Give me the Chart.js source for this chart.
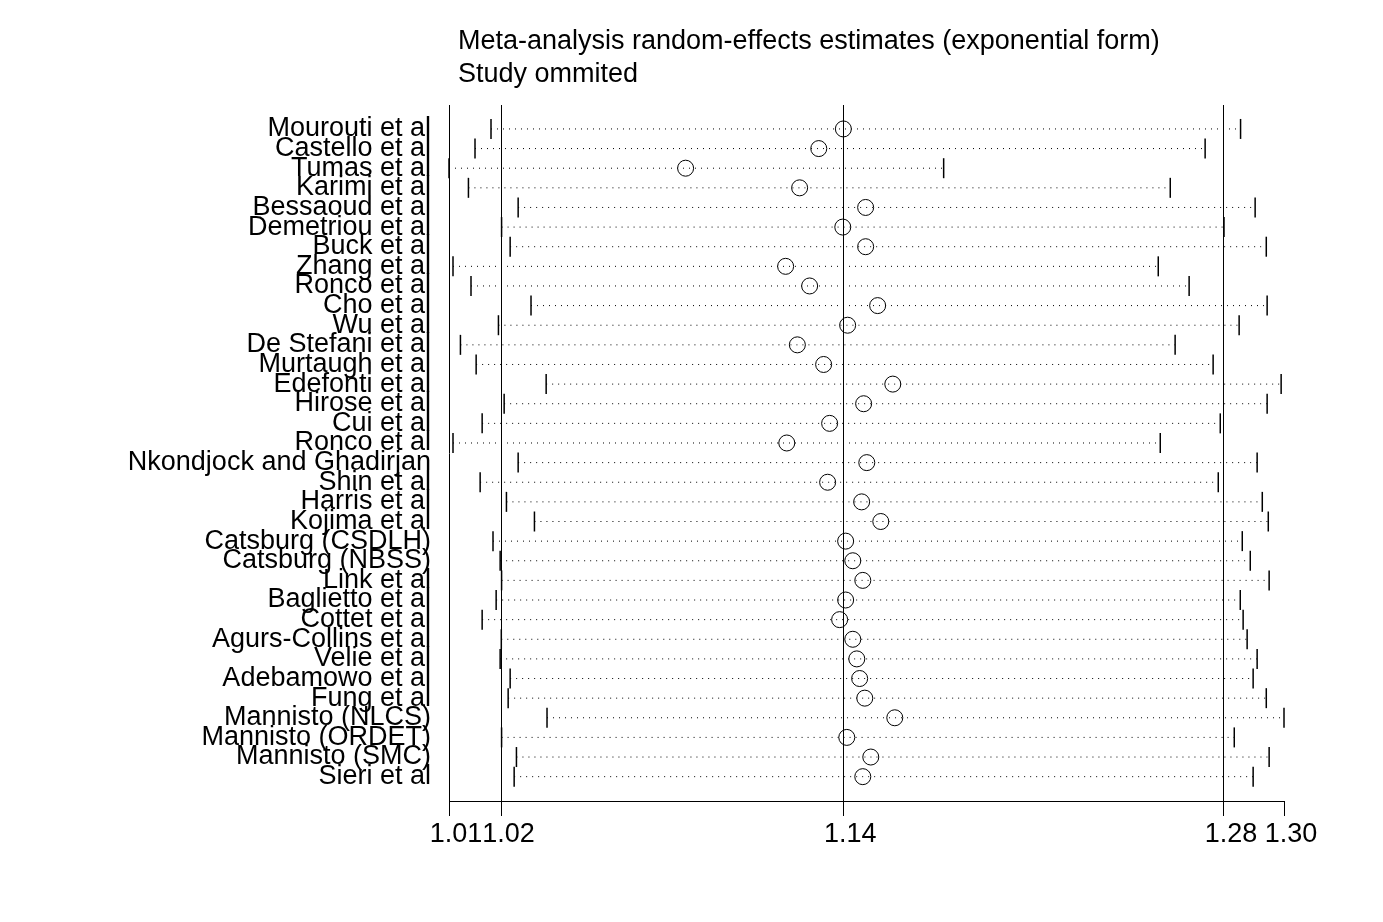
<!DOCTYPE html>
<html>
<head>
<meta charset="utf-8">
<title>Meta-analysis random-effects estimates</title>
<script src="https://cdn.jsdelivr.net/npm/chart.js@4.4.1/dist/chart.umd.min.js"></script>
<style>
  body { margin: 0; background: #fff; }
  #wrap { width: 1383px; height: 922px; }
</style>
</head>
<body>
<div id="wrap"><canvas id="chart"></canvas></div>
<script>
// study omitted, in plot order (top to bottom)
const studies = [
  "Mourouti et al", "Castello et al", "Tumas et al", "Karimi et al",
  "Bessaoud et al", "Demetriou et al", "Buck et al", "Zhang et al",
  "Ronco et al", "Cho et al", "Wu et al", "De Stefani et al",
  "Murtaugh et al", "Edefonti et al", "Hirose et al", "Cui et al",
  "Ronco et al", "Nkondjock and Ghadirjan", "Shin et al", "Harris et al",
  "Kojima et al", "Catsburg (CSDLH)", "Catsburg (NBSS)", "Link et al",
  "Baglietto et al", "Cottet et al", "Agurs-Collins et al", "Velie et al",
  "Adebamowo et al", "Fung et al", "Mannisto (NLCS)", "Mannisto (ORDET)",
  "Mannisto (SMC)", "Sieri et al"
];

const lower = [
  1.0205, 1.0149, 1.0058, 1.0126, 1.0300, 1.0242, 1.0272, 1.0072,
  1.0135, 1.0345, 1.0231, 1.0098, 1.0153, 1.0398, 1.0251, 1.0174,
  1.0072, 1.0300, 1.0167, 1.0259, 1.0357, 1.0212, 1.0237, 1.0242,
  1.0223, 1.0174, 1.0241, 1.0237, 1.0272, 1.0265, 1.0401, 1.0242,
  1.0294, 1.0286
];

const estimate = [
  1.1438, 1.1352, 1.0886, 1.1285, 1.1516, 1.1436, 1.1516, 1.1236,
  1.1320, 1.1558, 1.1453, 1.1277, 1.1369, 1.1611, 1.1509, 1.1390,
  1.1240, 1.1520, 1.1383, 1.1502, 1.1569, 1.1446, 1.1471, 1.1506,
  1.1446, 1.1425, 1.1471, 1.1485, 1.1495, 1.1513, 1.1618, 1.1450,
  1.1534, 1.1506
];

const upper = [
  1.2828, 1.2704, 1.1789, 1.2582, 1.2879, 1.2770, 1.2918, 1.2540,
  1.2648, 1.2921, 1.2823, 1.2599, 1.2732, 1.2970, 1.2921, 1.2757,
  1.2547, 1.2886, 1.2750, 1.2904, 1.2925, 1.2834, 1.2862, 1.2928,
  1.2827, 1.2837, 1.2851, 1.2886, 1.2872, 1.2918, 1.2980, 1.2806,
  1.2928, 1.2872
];

// overall estimate: lower CI, estimate, upper CI
const pooled = [1.0242, 1.1438, 1.2770];

const titleLines = [
  "Meta-analysis random-effects estimates (exponential form)",
  "Study ommited"
];

const xTicks = [Math.min(...lower), pooled[0], pooled[1], pooled[2], Math.max(...upper)];

const FONT = "Arial, 'Liberation Sans', sans-serif";

const ciSets = studies.map(function (name, i) {
  return {
    label: name,
    data: [{ x: lower[i], y: i }, { x: upper[i], y: i }],
    showLine: true,
    borderColor: "#000",
    borderWidth: 1,
    borderDash: [1, 5],
    pointStyle: "line",
    pointRotation: 90,
    pointRadius: 10,
    pointBorderWidth: 1.5,
    pointBorderColor: "#000",
    clip: false
  };
});

const estSet = {
  label: "estimate",
  data: estimate.map(function (v, i) { return { x: v, y: i }; }),
  showLine: false,
  pointStyle: "circle",
  pointRadius: 8,
  pointBorderWidth: 1,
  pointBorderColor: "#000",
  pointBackgroundColor: "rgba(0,0,0,0)",
  clip: false
};

const titlePlugin = {
  id: "stataTitle",
  afterDraw: function (chart) {
    var c = chart.ctx;
    c.save();
    c.font = "27px " + FONT;
    c.fillStyle = "#000";
    c.textBaseline = "middle";
    c.textAlign = "left";
    c.fillText(titleLines[0], chart.chartArea.left + 9, 42);
    c.fillText(titleLines[1], chart.chartArea.left + 9, 75);
    c.restore();
  }
};

new Chart(document.getElementById("chart"), {
  type: "scatter",
  data: { datasets: ciSets.concat([estSet]) },
  plugins: [titlePlugin],
  options: {
    responsive: true,
    maintainAspectRatio: false,
    animation: false,
    events: [],
    layout: { padding: { top: 105, right: 99, left: 0, bottom: 0 } },
    plugins: {
      legend: { display: false },
      tooltip: { enabled: false },
      title: { display: false }
    },
    scales: {
      x: {
        type: "linear",
        min: xTicks[0],
        max: xTicks[4],
        afterBuildTicks: function (scale) {
          scale.ticks = xTicks.map(function (v) { return { value: v }; });
        },
        afterFit: function (scale) { scale.height = 121; },
        ticks: {
          autoSkip: false,
          maxRotation: 0,
          minRotation: 0,
          padding: 2,
          labelOffset: 7,
          color: "#000",
          font: { size: 27, family: FONT },
          callback: function (v) { return Number(v).toFixed(2); }
        },
        grid: {
          color: function (ctx) {
            return ctx.index > 0 && ctx.index < 4 ? "#000" : "rgba(0,0,0,0)";
          },
          tickColor: "#000",
          tickLength: 15,
          lineWidth: 1
        },
        border: { display: true, color: "#000", width: 1 }
      },
      y: {
        type: "linear",
        reverse: true,
        min: -1.22,
        max: 34.24,
        afterBuildTicks: function (scale) {
          scale.ticks = studies.map(function (_, i) { return { value: i }; });
        },
        afterFit: function (scale) { scale.width = 449; },
        ticks: {
          autoSkip: false,
          padding: 18,
          color: "#000",
          font: { size: 27, family: FONT },
          callback: function (v, i) { return studies[i]; }
        },
        grid: { display: false, drawTicks: false },
        border: { display: true, color: "#000", width: 1 }
      }
    }
  }
});
</script>
</body>
</html>
